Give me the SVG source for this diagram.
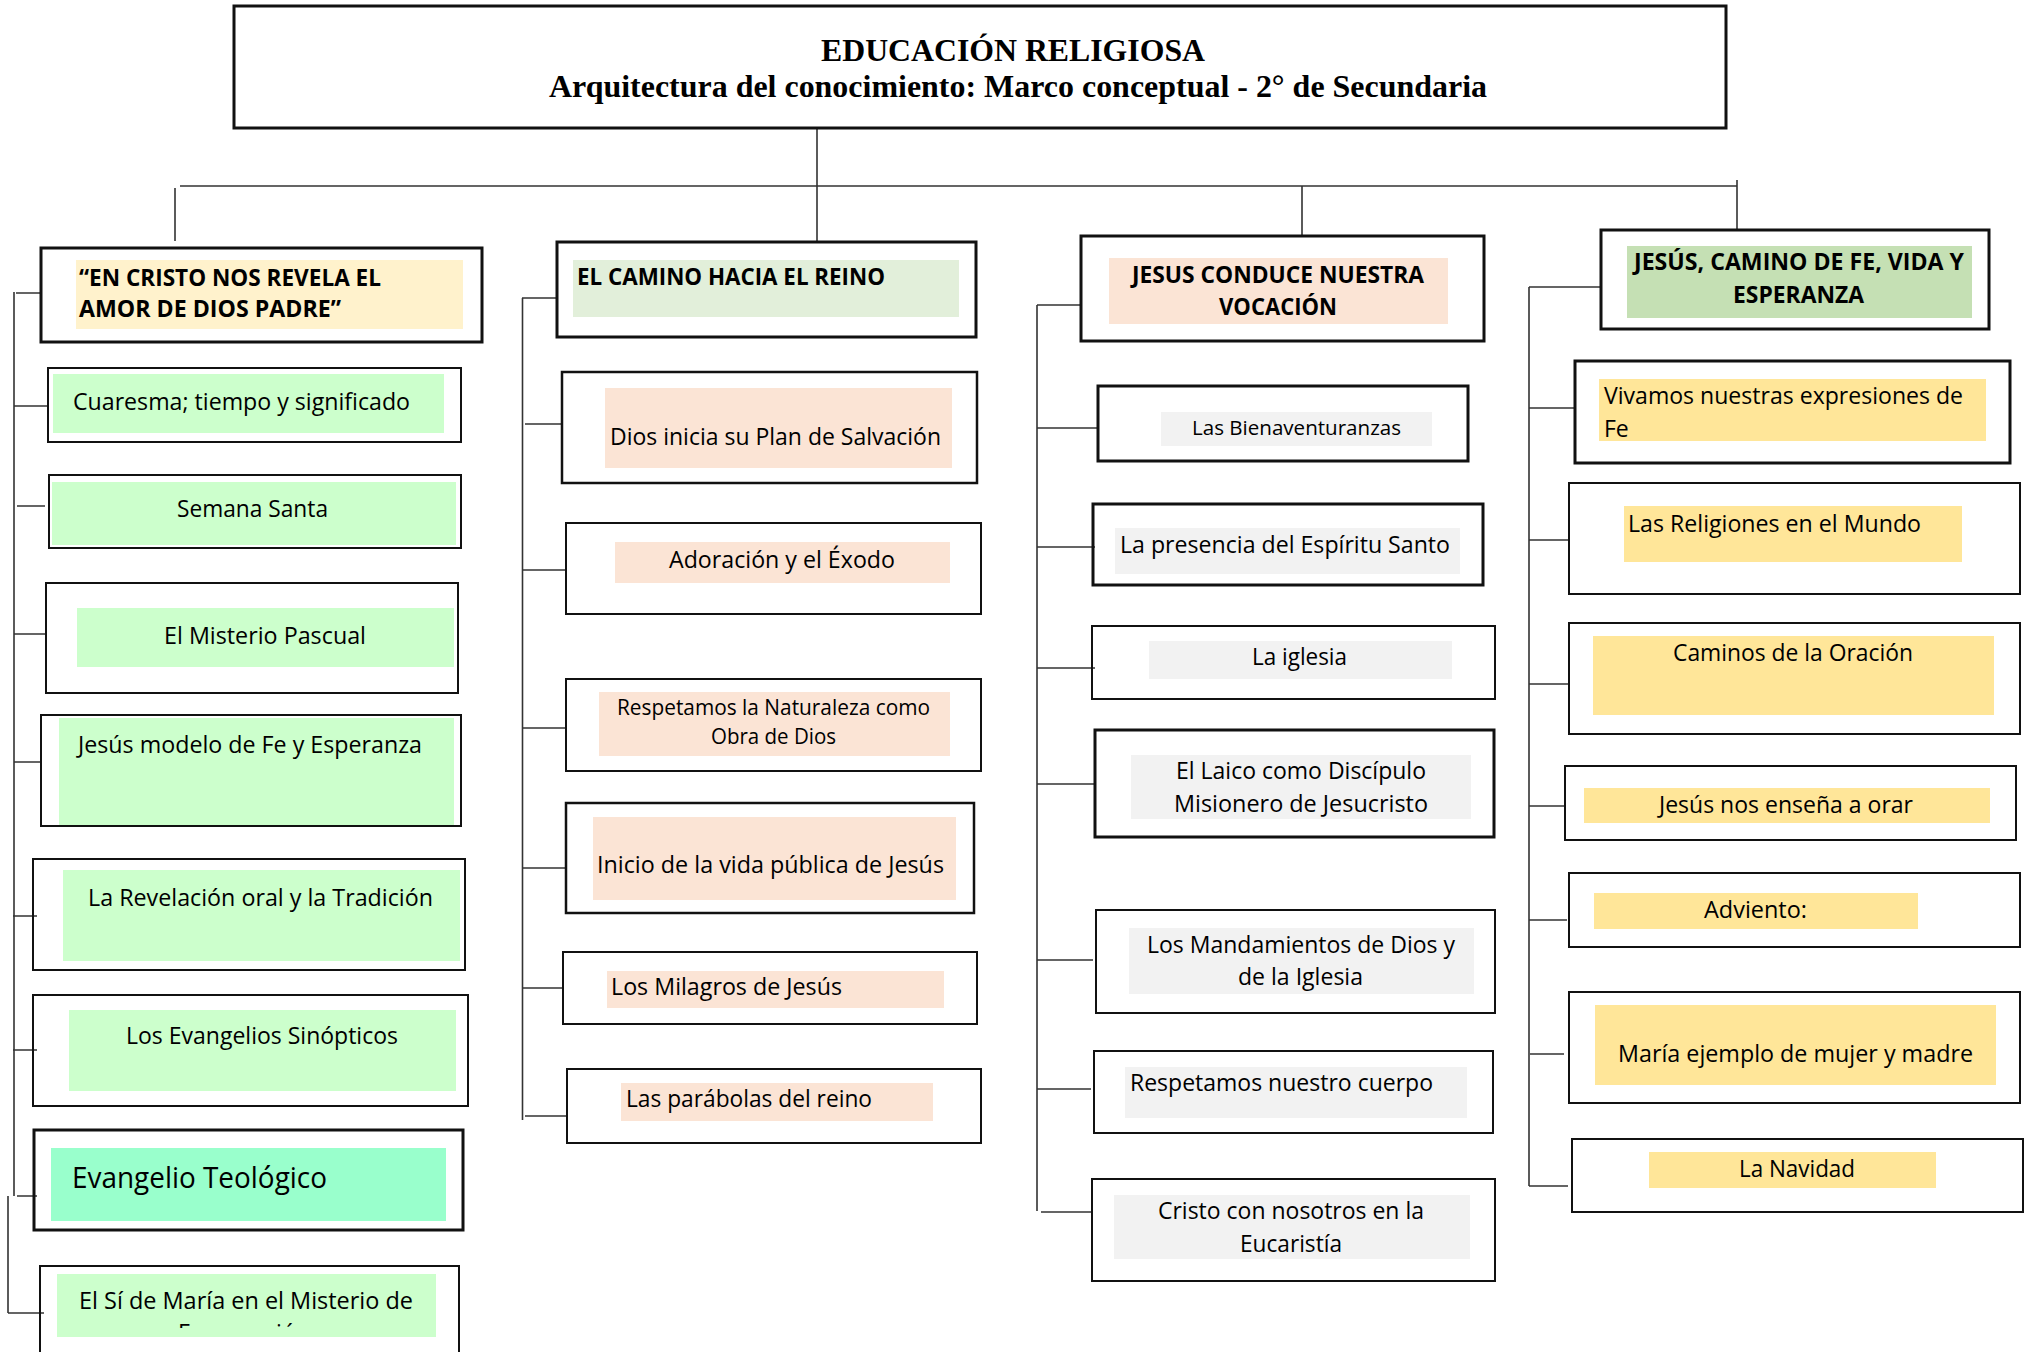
<svg xmlns="http://www.w3.org/2000/svg" width="2030" height="1352" viewBox="0 0 2030 1352">
<style>
.bd{fill:none;stroke:#111;stroke-width:2}
.tk{stroke-width:3}
.c{fill:none;stroke:#333;stroke-width:1.6}
.t{font-family:"Open Sans","Noto Sans",sans-serif;font-size:23px;fill:#000}
.s{font-size:21px}
.h{font-family:"Open Sans","Noto Sans",sans-serif;font-size:22.5px;font-weight:bold;fill:#000}
.ti{font-family:"Liberation Serif","Times New Roman",serif;font-size:31px;font-weight:bold;fill:#000}
.g1{fill:#CCFFCC}.g2{fill:#99FFCC}.pe{fill:#FBE4D5}.gr{fill:#F2F2F2}.ye{fill:#FFE699}
</style>
<defs>
<clipPath id="clipE"><rect x="40" y="1274" width="420" height="54"/></clipPath>
</defs>
<rect width="2030" height="1352" fill="#fff"/>

<g id="connectors">
<path class="c" d="M817 128V242M180 186H1737M175 188V241M1302 186V236M1737 180V230"/>
<path class="c" d="M14 292V1196M8 1196V1313M16 293H41M14 406H48M17 506H45M14 634H46M14 762H41M13 916H37M13 1050H37M17 1196H37M8 1313H44"/>
<path class="c" d="M522.5 298V1120M522 298H557M525 424H562M523 570H566M523 728H566M523 868H566M523 988H563M525 1116H567"/>
<path class="c" d="M1037 305V1211M1037 305H1081M1037 428H1098M1037 547H1095M1037 668H1095M1037 784H1095M1037 960H1093M1037 1089H1091M1041 1212H1092"/>
<path class="c" d="M1529 287V1186M1529 287H1601M1529 408H1575M1529 540H1568M1529 684H1568M1529 806H1565M1529 920H1567M1530 1054H1564M1529 1186H1568"/>
</g>

<g id="title">
<rect class="bd tk" x="234" y="6" width="1492" height="122"/>
<text class="ti" x="821" y="61" textLength="384" lengthAdjust="spacingAndGlyphs">EDUCACIÓN RELIGIOSA</text>
<text class="ti" x="549" y="97" textLength="938" lengthAdjust="spacingAndGlyphs">Arquitectura del conocimiento: Marco conceptual - 2° de Secundaria</text>
</g>

<g id="h1">
<rect x="76" y="260" width="387" height="69" fill="#FFF2CC"/>
<text class="h" x="79" y="286" textLength="302" lengthAdjust="spacingAndGlyphs">“EN CRISTO NOS REVELA EL</text>
<text class="h" x="79" y="317" textLength="262" lengthAdjust="spacingAndGlyphs">AMOR DE DIOS PADRE”</text>
<rect class="bd tk" x="41" y="248" width="441" height="94"/>
</g>
<g id="h2">
<rect x="573" y="260" width="386" height="57" fill="#E2EFDA"/>
<text class="h" x="577" y="285" textLength="308" lengthAdjust="spacingAndGlyphs">EL CAMINO HACIA EL REINO</text>
<rect class="bd tk" x="557" y="242" width="419" height="95"/>
</g>
<g id="h3">
<rect x="1109" y="258" width="339" height="66" fill="#FBE4D5"/>
<text class="h" x="1132" y="283" textLength="292" lengthAdjust="spacingAndGlyphs">JESUS CONDUCE NUESTRA</text>
<text class="h" x="1219" y="315" textLength="118" lengthAdjust="spacingAndGlyphs">VOCACIÓN</text>
<rect class="bd tk" x="1081" y="236" width="403" height="105"/>
</g>
<g id="h4">
<rect x="1627" y="246" width="345" height="72" fill="#C5E0B4"/>
<text class="h" x="1634" y="270" textLength="330" lengthAdjust="spacingAndGlyphs">JESÚS, CAMINO DE FE, VIDA Y</text>
<text class="h" x="1733" y="303" textLength="131" lengthAdjust="spacingAndGlyphs">ESPERANZA</text>
<rect class="bd tk" x="1601" y="230" width="388" height="99"/>
</g>

<g id="c1">
<rect class="g1" x="53" y="374" width="391" height="59"/>
<text class="t" x="73" y="410" textLength="337" lengthAdjust="spacingAndGlyphs">Cuaresma; tiempo y significado</text>
<rect class="bd" x="48" y="368" width="413" height="74"/>
</g>
<g id="c2">
<rect class="g1" x="52" y="482" width="404" height="63"/>
<text class="t" x="177" y="517" textLength="151" lengthAdjust="spacingAndGlyphs">Semana Santa</text>
<rect class="bd" x="49" y="475" width="412" height="73"/>
</g>
<g id="c3">
<rect class="g1" x="77" y="608" width="377" height="59"/>
<text class="t" x="164" y="644" textLength="202" lengthAdjust="spacingAndGlyphs">El Misterio Pascual</text>
<rect class="bd" x="46" y="583" width="412" height="110"/>
</g>
<g id="c4">
<rect class="g1" x="59" y="718" width="395" height="108"/>
<text class="t" x="78" y="753" textLength="344" lengthAdjust="spacingAndGlyphs">Jesús modelo de Fe y Esperanza</text>
<rect class="bd" x="41" y="715" width="420" height="111"/>
</g>
<g id="c5">
<rect class="g1" x="63" y="870" width="397" height="91"/>
<text class="t" x="88" y="906" textLength="345" lengthAdjust="spacingAndGlyphs">La Revelación oral y la Tradición</text>
<rect class="bd" x="33" y="859" width="432" height="111"/>
</g>
<g id="c6">
<rect class="g1" x="69" y="1010" width="387" height="81"/>
<text class="t" x="126" y="1044" textLength="272" lengthAdjust="spacingAndGlyphs">Los Evangelios Sinópticos</text>
<rect class="bd" x="33" y="995" width="435" height="111"/>
</g>
<g id="c7">
<rect class="g2" x="51" y="1148" width="395" height="73"/>
<text class="t" x="72" y="1188" style="font-size:29px" textLength="255" lengthAdjust="spacingAndGlyphs">Evangelio Teológico</text>
<rect class="bd tk" x="34" y="1130" width="429" height="100"/>
</g>
<g id="c8">
<rect class="g1" x="57" y="1274" width="379" height="63"/>
<text class="t" x="79" y="1309" textLength="334" lengthAdjust="spacingAndGlyphs">El Sí de María en el Misterio de</text>
<text class="t" x="178" y="1341" clip-path="url(#clipE)">Encarnación</text>
<rect class="bd" x="40" y="1266" width="419" height="100"/>
</g>

<g id="d1">
<rect class="pe" x="605" y="388" width="347" height="80"/>
<text class="t" x="610" y="445" textLength="331" lengthAdjust="spacingAndGlyphs">Dios inicia su Plan de Salvación</text>
<rect class="bd" x="562" y="372" width="415" height="111" style="stroke-width:2.5"/>
</g>
<g id="d2">
<rect class="pe" x="615" y="542" width="335" height="41"/>
<text class="t" x="669" y="568" textLength="226" lengthAdjust="spacingAndGlyphs">Adoración y el Éxodo</text>
<rect class="bd" x="566" y="523" width="415" height="91"/>
</g>
<g id="d3">
<rect class="pe" x="599" y="692" width="351" height="64"/>
<text class="t s" x="617" y="715" textLength="313" lengthAdjust="spacingAndGlyphs">Respetamos la Naturaleza como</text>
<text class="t s" x="711" y="744" textLength="125" lengthAdjust="spacingAndGlyphs">Obra de Dios</text>
<rect class="bd" x="566" y="679" width="415" height="92"/>
</g>
<g id="d4">
<rect class="pe" x="593" y="817" width="363" height="83"/>
<text class="t" x="597" y="873" textLength="347" lengthAdjust="spacingAndGlyphs">Inicio de la vida pública de Jesús</text>
<rect class="bd" x="566" y="803" width="408" height="110" style="stroke-width:2.5"/>
</g>
<g id="d5">
<rect class="pe" x="607" y="971" width="337" height="37"/>
<text class="t" x="611" y="995" textLength="231" lengthAdjust="spacingAndGlyphs">Los Milagros de Jesús</text>
<rect class="bd" x="563" y="952" width="414" height="72"/>
</g>
<g id="d6">
<rect class="pe" x="621" y="1083" width="312" height="38"/>
<text class="t" x="626" y="1107" textLength="246" lengthAdjust="spacingAndGlyphs">Las parábolas del reino</text>
<rect class="bd" x="567" y="1069" width="414" height="74"/>
</g>

<g id="e1">
<rect class="gr" x="1161" y="412" width="271" height="34"/>
<text class="t" x="1192" y="435" style="font-size:20.5px" textLength="209" lengthAdjust="spacingAndGlyphs">Las Bienaventuranzas</text>
<rect class="bd tk" x="1098" y="386" width="370" height="75"/>
</g>
<g id="e2">
<rect class="gr" x="1115" y="528" width="345" height="46"/>
<text class="t" x="1120" y="553" textLength="330" lengthAdjust="spacingAndGlyphs">La presencia del Espíritu Santo</text>
<rect class="bd tk" x="1093" y="504" width="390" height="81"/>
</g>
<g id="e3">
<rect class="gr" x="1149" y="641" width="303" height="38"/>
<text class="t" x="1252" y="665" textLength="95" lengthAdjust="spacingAndGlyphs">La iglesia</text>
<rect class="bd" x="1092" y="626" width="403" height="73"/>
</g>
<g id="e4">
<rect class="gr" x="1131" y="755" width="340" height="64"/>
<text class="t" x="1176" y="779" textLength="250" lengthAdjust="spacingAndGlyphs">El Laico como Discípulo</text>
<text class="t" x="1174" y="812" textLength="254" lengthAdjust="spacingAndGlyphs">Misionero de Jesucristo</text>
<rect class="bd tk" x="1095" y="730" width="399" height="107"/>
</g>
<g id="e5">
<rect class="gr" x="1129" y="928" width="345" height="66"/>
<text class="t" x="1147" y="953" textLength="308" lengthAdjust="spacingAndGlyphs">Los Mandamientos de Dios y</text>
<text class="t" x="1238" y="985" textLength="125" lengthAdjust="spacingAndGlyphs">de la Iglesia</text>
<rect class="bd" x="1096" y="910" width="399" height="103"/>
</g>
<g id="e6">
<rect class="gr" x="1125" y="1067" width="342" height="51"/>
<text class="t" x="1130" y="1091" textLength="303" lengthAdjust="spacingAndGlyphs">Respetamos nuestro cuerpo</text>
<rect class="bd" x="1094" y="1051" width="399" height="82"/>
</g>
<g id="e7">
<rect class="gr" x="1114" y="1195" width="356" height="64"/>
<text class="t" x="1158" y="1219" textLength="266" lengthAdjust="spacingAndGlyphs">Cristo con nosotros en la</text>
<text class="t" x="1240" y="1252" textLength="102" lengthAdjust="spacingAndGlyphs">Eucaristía</text>
<rect class="bd" x="1092" y="1179" width="403" height="102"/>
</g>

<g id="f1">
<rect class="ye" x="1599" y="379" width="387" height="62"/>
<text class="t" x="1604" y="404" textLength="359" lengthAdjust="spacingAndGlyphs">Vivamos nuestras expresiones de</text>
<text class="t" x="1604" y="437">Fe</text>
<rect class="bd tk" x="1575" y="361" width="435" height="102"/>
</g>
<g id="f2">
<rect class="ye" x="1624" y="506" width="338" height="56"/>
<text class="t" x="1628" y="532" textLength="293" lengthAdjust="spacingAndGlyphs">Las Religiones en el Mundo</text>
<rect class="bd" x="1569" y="483" width="451" height="111"/>
</g>
<g id="f3">
<rect class="ye" x="1593" y="636" width="401" height="79"/>
<text class="t" x="1673" y="661" textLength="240" lengthAdjust="spacingAndGlyphs">Caminos de la Oración</text>
<rect class="bd" x="1569" y="623" width="451" height="111"/>
</g>
<g id="f4">
<rect class="ye" x="1584" y="788" width="406" height="35"/>
<text class="t" x="1659" y="813" textLength="254" lengthAdjust="spacingAndGlyphs">Jesús nos enseña a orar</text>
<rect class="bd" x="1565" y="766" width="451" height="74"/>
</g>
<g id="f5">
<rect class="ye" x="1594" y="893" width="324" height="36"/>
<text class="t" x="1704" y="918" textLength="103" lengthAdjust="spacingAndGlyphs">Adviento:</text>
<rect class="bd" x="1569" y="873" width="451" height="74"/>
</g>
<g id="f6">
<rect class="ye" x="1595" y="1005" width="401" height="80"/>
<text class="t" x="1618" y="1062" textLength="355" lengthAdjust="spacingAndGlyphs">María ejemplo de mujer y madre</text>
<rect class="bd" x="1569" y="992" width="451" height="111"/>
</g>
<g id="f7">
<rect class="ye" x="1649" y="1152" width="287" height="36"/>
<text class="t" x="1739" y="1177" textLength="116" lengthAdjust="spacingAndGlyphs">La Navidad</text>
<rect class="bd" x="1572" y="1139" width="451" height="73"/>
</g>
</svg>
